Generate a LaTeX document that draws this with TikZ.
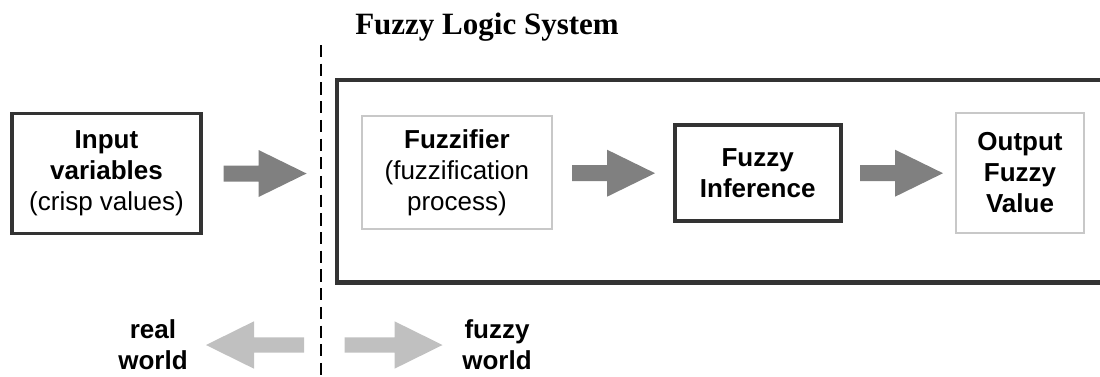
\documentclass[tikz,border=0pt]{standalone}
\usepackage{fontspec}
\setmainfont{Liberation Serif}
\setsansfont{Liberation Sans}
\usetikzlibrary{calc}

\definecolor{framedark}{HTML}{333333}
\definecolor{framelight}{HTML}{C8C8C8}
\definecolor{arrowdark}{HTML}{808080}
\definecolor{arrowlight}{HTML}{C0C0C0}

\tikzset{
  % block arrow pointing along +x, origin at the tail
  pics/darkarrow/.style={code={
    \fill[arrowdark] (0,-8) -- (35,-8) -- (35,-23.5) -- (83,0)
      -- (35,23.5) -- (35,8) -- (0,8) -- cycle;}},
  pics/lightarrow/.style={code={
    \fill[arrowlight] (0,-7.7) -- (50,-7.7) -- (50,-23.7) -- (98,0)
      -- (50,23.7) -- (50,7.7) -- (0,7.7) -- cycle;}},
}

\begin{document}
\begin{tikzpicture}[x=1pt,y=-1pt,
  every node/.style={inner sep=0pt, outer sep=0pt},
  boxtext/.style={font=\sffamily\fontsize{26}{31}\selectfont, align=center},
  darkbox/.style={boxtext, rectangle, draw=framedark, line width=3.6pt},
  lightbox/.style={boxtext, rectangle, draw=framelight, line width=2pt},
  sysframe/.style={rectangle, draw=framedark, line width=4.5pt},
  divider/.style={draw=black, line width=2.2pt, dash pattern=on 12.2pt off 6.5pt},
  worldlabel/.style={font=\sffamily\bfseries\fontsize{26}{31}\selectfont, align=center},
  titlefont/.style={font=\bfseries\fontsize{31}{37}\selectfont},
]
\useasboundingbox (0,0) rectangle (1100,376);
\clip (0,0) rectangle (1100,376);

% title
\node[titlefont, anchor=base] (title) at (487,34) {Fuzzy Logic System};

% the fuzzy logic system frame (runs on past the right edge)
\node[sysframe, minimum width=778pt, minimum height=202.3pt] (fls) at (725.9,181.2) {};

% boundary between real and fuzzy world
\coordinate (divtop) at (321,45);
\coordinate (divbot) at (321,380);
\draw[divider] (divtop) -- (divbot);

% blocks
\node[darkbox, minimum width=189.5pt, minimum height=120pt] (in) at (106.5,173.3)
  {\textbf{Input}\\\textbf{variables}\\(crisp values)};
\node[lightbox, minimum width=190.3pt, minimum height=112.2pt] (fz) at (456.9,172.4)
  {\textbf{Fuzzifier}\\(fuzzification\\process)};
\node[darkbox, minimum width=166pt, minimum height=96pt] (inf) at (757.7,172.7)
  {\textbf{Fuzzy}\\\textbf{Inference}};
\node[lightbox, minimum width=128pt, minimum height=120pt] (out) at (1020,173)
  {\textbf{Output}\\\textbf{Fuzzy}\\\textbf{Value}};

% flow arrows
\coordinate (a1) at ($(in.east)+(22.3,0.2)$);
\coordinate (a2) at ($(fz.east)+(20,0.8)$);
\coordinate (a3) at ($(inf.east)+(19.3,0.5)$);
\pic at (a1) {darkarrow};
\pic at (a2) {darkarrow};
\pic at (a3) {darkarrow};

% real world / fuzzy world
\node[worldlabel] (real) at (153,345) {real\\world};
\node[worldlabel] (fuzzy) at (497,345) {fuzzy\\world};
\coordinate (lw) at ($(divbot|-real)+(-17,0)$);
\coordinate (fw) at ($(divbot|-fuzzy)+(23.5,0)$);
\pic[xscale=-1] at (lw) {lightarrow};
\pic at (fw) {lightarrow};
\end{tikzpicture}
\end{document}
